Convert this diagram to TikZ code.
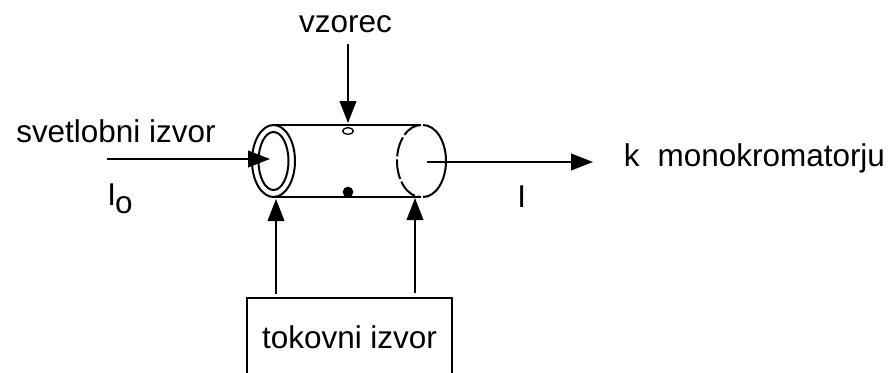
\documentclass[tikz,border=0pt]{standalone}
\usepackage{fontspec}
\setmainfont{Liberation Sans}
\usetikzlibrary{arrows.meta,shapes.geometric}
\tikzset{
  wire/.style={line width=1.5pt,black},
  arrowline/.style={line width=1.3pt,black,-{Triangle[length=16.5pt,width=12.5pt]}},
  lab/.style={inner sep=0pt,font=\fontsize{23.6}{26}\selectfont,text=black}
}
\begin{document}
\begin{tikzpicture}[x=0.75pt,y=-0.75pt]
\useasboundingbox (0,0) rectangle (893,372);
\begin{scope}
\clip (0,0) rectangle (893,372);
\node[draw,wire,inner sep=0pt,minimum width=154pt,minimum height=90pt,anchor=north west] (box) at (245.5,297) {};
\end{scope}
\node[lab,anchor=base] (tok) at (349.5,348) {tokovni izvor};
\node[lab,anchor=base] (vz) at (345.5,32) {vzorec};
\node[lab,anchor=base west] (sv) at (16,142) {svetlobni izvor};
\node[lab,anchor=base west] (mono) at (623.5,166) {k\hspace{0.3em} monokromatorju};
\node[lab,anchor=base west] (Io) at (107,205) {I\kern-0.6pt\raisebox{-6pt}{o}};
\node[lab,anchor=base west] (Iout) at (517,207) {I};
% cylinder
\coordinate (lc) at (273.5,161);
\coordinate (lt) at (273.5,125);
\coordinate (lb) at (273.5,197);
\coordinate (rt) at (421,125);
\coordinate (rb) at (421,197);
\draw[wire] (lt) -- (rt);
\draw[wire] (lb) -- (rb);
\draw[wire,fill=white] (lc) ellipse [x radius=21.5,y radius=36];
\draw[wire] (lc) ellipse [x radius=15,y radius=29];
\draw[wire,dash pattern=on 15pt off 2.2pt] (rt) arc[start angle=-90,end angle=-270,x radius=24,y radius=36];
\draw[wire] (423,125) arc[start angle=-90,end angle=90,x radius=23,y radius=36];
% sample marks
\node[draw,line width=1pt,ellipse,inner sep=0pt,minimum width=8pt,minimum height=5pt] (hole) at (348,131) {};
\node[fill=black,circle,inner sep=0pt,minimum size=8pt] (dot) at (348,192) {};
% connectors
\coordinate (vzs) at (348,44);
\coordinate (vze) at (348,123);
\draw[arrowline] (vzs) -- (vze);
\coordinate (ls) at (107,159);
\coordinate (le) at (270,159);
\draw[arrowline] (ls) -- (le);
\coordinate (os) at (427,162);
\coordinate (oe) at (593,162);
\draw[arrowline] (os) -- (oe);
\coordinate (a1s) at (276,294);
\coordinate (a1e) at (276,199);
\draw[arrowline] (a1s) -- (a1e);
\coordinate (a2s) at (415,293);
\coordinate (a2e) at (415,198);
\draw[arrowline] (a2s) -- (a2e);
\end{tikzpicture}
\end{document}
